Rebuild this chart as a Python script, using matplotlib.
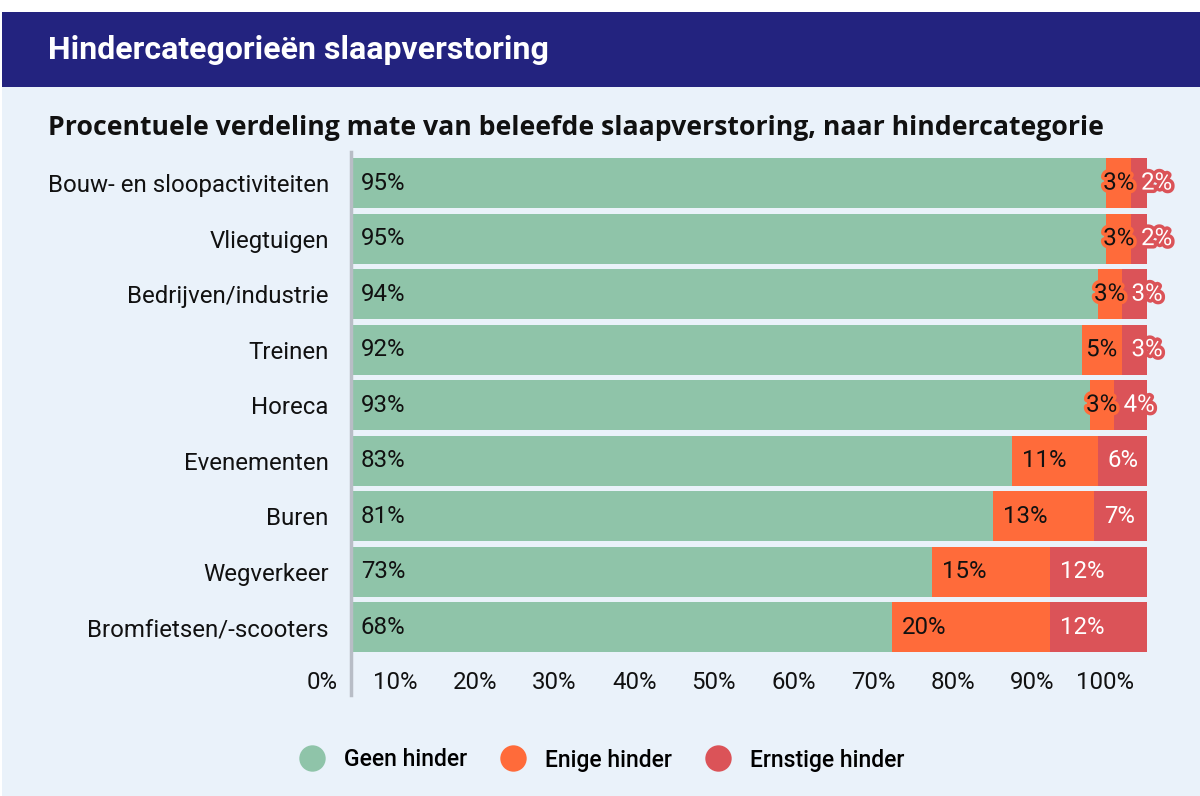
import matplotlib
matplotlib.use("Agg")
import matplotlib.pyplot as plt
import matplotlib.patches as patches
import matplotlib.patheffects as pe
from matplotlib.lines import Line2D
from matplotlib.transforms import ScaledTranslation

plt.rcParams['font.family'] = ['Roboto', 'DejaVu Sans']

categories = [
    "Bouw- en sloopactiviteiten", "Vliegtuigen", "Bedrijven/industrie",
    "Treinen", "Horeca", "Evenementen", "Buren", "Wegverkeer",
    "Bromfietsen/-scooters",
]
geen_hinder = [94.9, 94.9, 93.8, 91.8, 92.8, 83.0, 80.6, 73.0, 68.0]
enige_hinder = [3.1, 3.1, 3.0, 5.0, 3.0, 10.8, 12.7, 14.8, 19.8]
ernstige_hinder = [2.0, 2.0, 3.2, 3.2, 4.2, 6.2, 6.7, 12.2, 12.2]
series_names = ["Geen hinder", "Enige hinder", "Ernstige hinder"]
x_ticks = list(range(0, 101, 10))

colors = ["#8FC4A9", "#FF6B3A", "#DB5358"]
text_colors = ["#111111", "#111111", "#FFFFFF"]
navy = "#23237F"
bg = "#EAF2FA"
fs = 17.3

fig = plt.figure(figsize=(12, 7.96), dpi=100, facecolor="white")
W, H = 1200, 796

# background panel + title band
fig.patches.append(patches.Rectangle((2 / W, 0), 1, 1 - 87 / H, transform=fig.transFigure,
                                     facecolor=bg, edgecolor="none", zorder=-2))
fig.patches.append(patches.Rectangle((2 / W, 1 - 87 / H), 1, 75 / H, transform=fig.transFigure,
                                     facecolor=navy, edgecolor="none", zorder=-2))
fig.text(48 / W, 1 - 50 / H, "Hindercategorieën slaapverstoring", color="white",
         fontsize=23, fontweight="bold", va="center", ha="left")
fig.text(48 / W, 1 - 128 / H,
         "Procentuele verdeling mate van beleefde slaapverstoring, naar hindercategorie",
         color="#111111", fontsize=19.2, fontweight="bold", va="center", ha="left",
         family=["Open Sans", "DejaVu Sans"])

ax = fig.add_axes([351 / W, 1 - 695 / H, 796 / W, (695 - 152) / H])
ax.set_facecolor("none")
ax.set_zorder(2)

y = list(range(len(categories)))
series = [geen_hinder, enige_hinder, ernstige_hinder]
left = [0.0] * len(categories)
for k, vals in enumerate(series):
    ax.barh(y, vals, left=left, height=0.9, color=colors[k], label=series_names[k], zorder=2)
    for i, v in enumerate(vals):
        small = v < 6
        if k == 1 and small:
            xpos, ha, dx = left[i] + v / 2, "center", 0
        else:
            xpos, ha, dx = left[i], "left", 10
        txt = ax.annotate(f"{v:.0f}%", (xpos, i), xytext=(dx, 0), textcoords="offset pixels",
                          ha=ha, va="center", fontsize=fs, color=text_colors[k], zorder=4)
        if small:
            txt.set_path_effects([pe.withStroke(linewidth=5, foreground=colors[k])])
    left = [a + b for a, b in zip(left, vals)]

ax.set_xlim(0, 100)
ax.set_ylim(len(categories) - 1 + 1.22, -0.56)
ax.set_yticks(y)
ax.set_yticklabels(categories, fontsize=fs, color="#111111")
ax.tick_params(axis="y", length=0, pad=16)

ax.set_xticks(x_ticks)
ax.set_xticklabels([f"{t}%" for t in x_ticks], fontsize=fs, color="#111111")
ax.tick_params(axis="x", length=0)
offset = ScaledTranslation(-13 / 100, 29 / 100, fig.dpi_scale_trans)
for lab in ax.get_xticklabels():
    lab.set_horizontalalignment("right")
    lab.set_transform(lab.get_transform() + offset)

for s in ["top", "right", "bottom"]:
    ax.spines[s].set_visible(False)
ax.spines["left"].set_color("#B8BDC6")
ax.spines["left"].set_linewidth(2.5)
ax.spines["left"].set_zorder(5)

handles = [Line2D([], [], marker="o", linestyle="none", markersize=19,
                  markerfacecolor=c, markeredgecolor="none") for c in colors]
fig.legend(handles, series_names, loc="center", bbox_to_anchor=(597 / W, 1 - 760 / H),
           ncol=3, frameon=False, prop={"size": 16.5, "weight": "medium"},
           handletextpad=0.4, columnspacing=1.0)

fig.savefig("out.png", dpi=100, facecolor="white")
